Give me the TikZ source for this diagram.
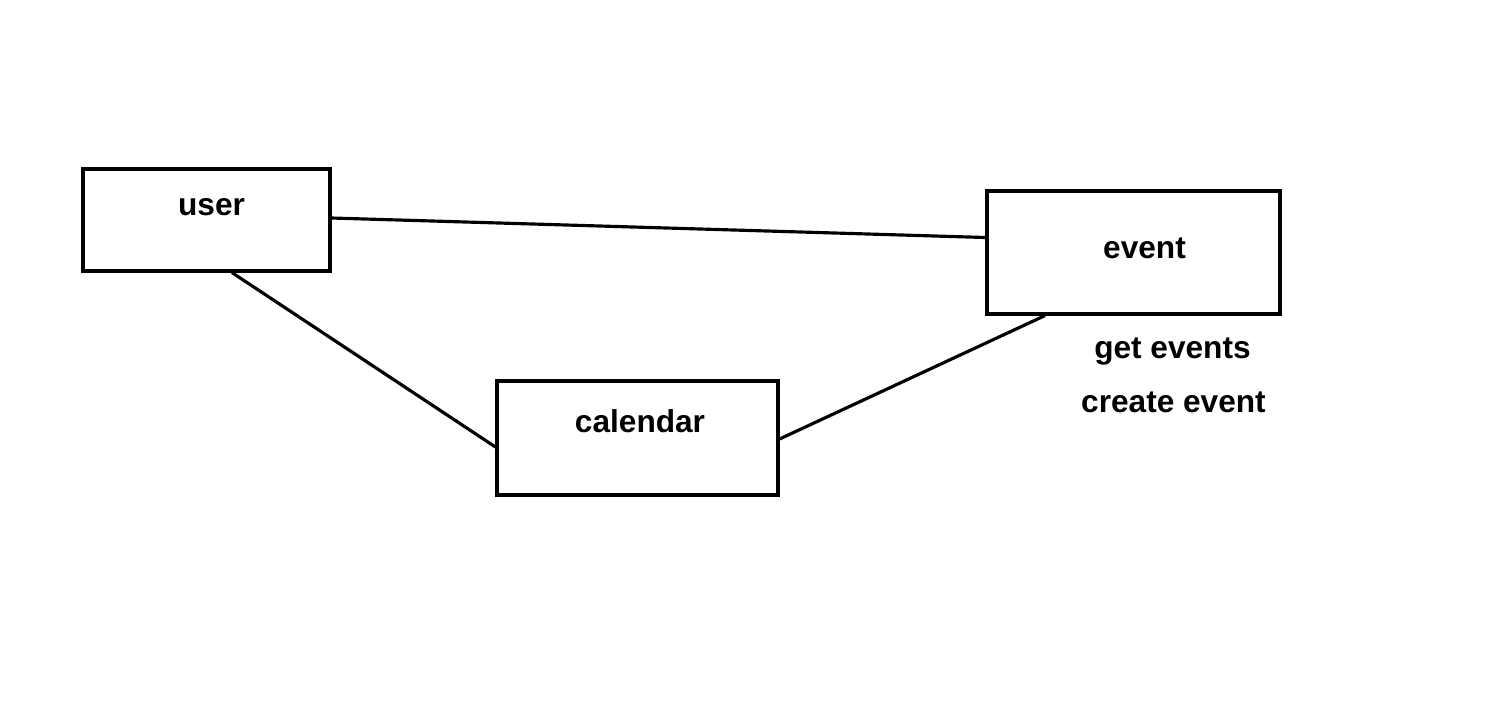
\documentclass[tikz,border=0pt]{standalone}
\usepackage{fontspec}
\setmainfont{Liberation Sans}
\begin{document}
\begin{tikzpicture}[x=0.02cm,y=-0.02cm,
    box/.style={draw,line width=1.8pt,inner sep=0pt},
    word/.style={font=\fontsize{18}{20}\selectfont\bfseries,inner sep=0pt,anchor=base}]
  \useasboundingbox (0,0) rectangle (1494,718);
  \node[box,minimum width=4.94cm,minimum height=2.04cm] (user) at (206.5,220) {};
  \node[box,minimum width=5.86cm,minimum height=2.46cm] (event) at (1133.5,252.5) {};
  \node[box,minimum width=5.62cm,minimum height=2.28cm] (calendar) at (637.5,438) {};
  \node[word] (userlbl) at (211.5,215) {user};
  \node[word] (eventlbl) at (1144.5,258) {event};
  \node[word] (callbl) at (640,432) {calendar};
  \node[word] (getlbl) at (1172.5,358) {get events};
  \node[word] (createlbl) at (1173.5,412) {create event};
  \draw[line width=1.8pt] ([yshift=0.04cm]user.east) -- ([yshift=0.3cm]event.west);
  \draw[line width=1.8pt] ([xshift=0.51cm]user.south) -- ([yshift=-0.18cm]calendar.west);
  \draw[line width=1.8pt] ([yshift=-0.02cm]calendar.east) -- ([xshift=-1.77cm]event.south);
\end{tikzpicture}
\end{document}
